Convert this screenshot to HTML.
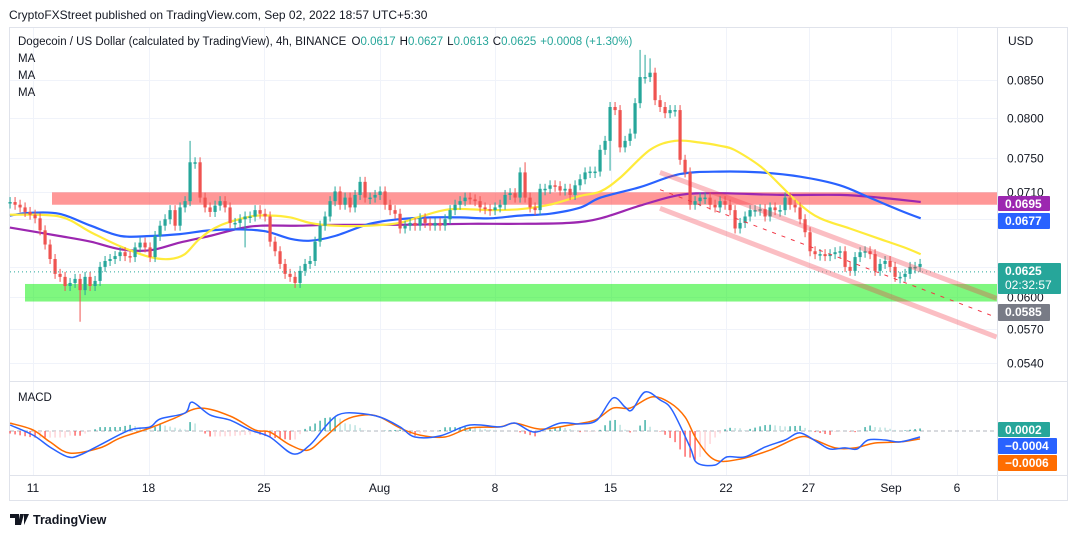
<!DOCTYPE html>
<html><head><meta charset="utf-8"><style>
html,body{margin:0;padding:0;background:#fff;}
svg{display:block;font-family:"Liberation Sans",sans-serif;}
</style></head><body>
<svg id="c" width="1078" height="537" viewBox="0 0 1078 537" xmlns="http://www.w3.org/2000/svg">
<rect x="0" y="0" width="1078" height="537" fill="#fff"/>
<text x="9" y="19" font-size="12" fill="#131722">CryptoFXStreet published on TradingView.com, Sep 02, 2022 18:57 UTC+5:30</text>
<rect x="9.5" y="27.5" width="1058" height="473" fill="none" stroke="#e0e3eb"/>
<g id="grid"></g>
<g id="zones"></g>
<g id="mas"></g>
<g id="candles"></g>
<g id="drawings"></g>
<g id="macd"></g>
<line x1="9" y1="381.5" x2="1067" y2="381.5" stroke="#e0e3eb"/>
<line x1="9" y1="475.5" x2="1067" y2="475.5" stroke="#e0e3eb"/>
<line x1="997.5" y1="27" x2="997.5" y2="500" stroke="#e0e3eb"/>
<g id="axes"></g>
<text x="18" y="45" font-size="11.5" fill="#131722">Dogecoin / US Dollar (calculated by TradingView), 4h, BINANCE <tspan dx="2">O</tspan><tspan fill="#26a69a">0.0617</tspan><tspan dx="4">H</tspan><tspan fill="#26a69a">0.0627</tspan><tspan dx="4">L</tspan><tspan fill="#26a69a">0.0613</tspan><tspan dx="4">C</tspan><tspan fill="#26a69a">0.0625</tspan><tspan dx="4" fill="#26a69a">+0.0008 (+1.30%)</tspan></text>
<text x="18" y="62" font-size="11.5" fill="#131722">MA</text>
<text x="18" y="79" font-size="11.5" fill="#131722">MA</text>
<text x="18" y="96" font-size="11.5" fill="#131722">MA</text>
<text x="18" y="401" font-size="11.5" fill="#131722">MACD</text>
<text x="1008" y="45" font-size="12" fill="#131722">USD</text>
<g>
<path d="M10 514h9v11h-4v-7h-5z M20 514h4l-3 11h-3z M24 514h5l-5 11z" fill="#131722"/>
<text x="33" y="524" font-size="12.5" font-weight="bold" fill="#131722">TradingView</text>
</g>
</svg>
<script>
const closes=[0.0699,0.0696,0.0693,0.0688,0.0685,0.0681,0.0668,0.0653,0.0638,0.0623,0.0620,0.0611,0.0614,0.0618,0.0607,0.0620,0.0611,0.0616,0.0630,0.0636,0.0638,0.0641,0.0645,0.0641,0.0640,0.0650,0.0655,0.0650,0.0640,0.0662,0.0673,0.0680,0.0690,0.0673,0.0693,0.0700,0.0745,0.0745,0.0704,0.0693,0.0688,0.0695,0.0700,0.0693,0.0676,0.0676,0.0680,0.0683,0.0683,0.0690,0.0686,0.0683,0.0656,0.0646,0.0633,0.0623,0.0620,0.0614,0.0626,0.0633,0.0636,0.0656,0.0673,0.0683,0.0700,0.0711,0.0696,0.0704,0.0693,0.0707,0.0722,0.0704,0.0704,0.0707,0.0711,0.0696,0.0690,0.0686,0.0670,0.0673,0.0676,0.0673,0.0681,0.0676,0.0673,0.0676,0.0673,0.0680,0.0690,0.0696,0.0700,0.0704,0.0702,0.0700,0.0693,0.0691,0.0690,0.0693,0.0696,0.0707,0.0709,0.0704,0.0733,0.0704,0.0693,0.0690,0.0714,0.0714,0.0718,0.0717,0.0712,0.0714,0.0707,0.0718,0.0725,0.0733,0.0734,0.0734,0.0760,0.0771,0.0814,0.0810,0.0763,0.0771,0.0780,0.0819,0.0854,0.0854,0.0860,0.0823,0.0814,0.0806,0.0810,0.0810,0.0748,0.0733,0.0696,0.0700,0.0704,0.0704,0.0696,0.0693,0.0700,0.0696,0.0690,0.0670,0.0676,0.0683,0.0690,0.0690,0.0691,0.0683,0.0693,0.0690,0.0690,0.0704,0.0696,0.0693,0.0680,0.0666,0.0646,0.0643,0.0643,0.0641,0.0643,0.0645,0.0646,0.0630,0.0626,0.0640,0.0645,0.0646,0.0643,0.0626,0.0633,0.0636,0.0630,0.0620,0.0620,0.0623,0.0630,0.0630,0.0633];
const spikeHighIdx=[36,126,127,128,103];
const spikeHighVal=[0.0771,0.0892,0.0885,0.0880,0.0745];
const spikeLowIdx=[14,47,120];
const spikeLowVal=[0.0577,0.0650,0.0735];

const maYellowDays=[-1.4,1.6,3.5,5.3,7.1,8.3,9.2,10.1,11.3,13.2,14.4,15.6,16.8,18.3,20.4,22.2,23.5,25.3,27.7,29.5,31.3,33.2,34.4,35.6,37.4,38.9,40.4,41.6,42.5,44.1,45.3,46.5,47.7,49.5,51.3,52.8,53.8];
const maYellowVals=[0.0685,0.0683,0.0666,0.0651,0.0640,0.0638,0.0643,0.0659,0.0673,0.0683,0.0684,0.0682,0.0676,0.0673,0.0673,0.0676,0.0683,0.0691,0.0690,0.0691,0.0696,0.0706,0.0711,0.0727,0.0760,0.0771,0.0769,0.0765,0.0760,0.0740,0.0718,0.0696,0.0681,0.0670,0.0659,0.0650,0.0643];
const maBlueDays=[-1.4,-0.2,1.6,3.5,5.3,7.1,8.9,10.7,12.5,14.1,15.6,16.8,18.3,20.4,22.2,24.1,25.9,27.7,29.5,31.3,33.2,34.4,36.8,39.2,41.6,44.1,46.5,48.9,50.7,52.5,53.8];
const maBlueVals=[0.0684,0.0687,0.0686,0.0673,0.0662,0.0662,0.0664,0.0668,0.0669,0.0667,0.0659,0.0657,0.0662,0.0675,0.0680,0.0682,0.0682,0.0681,0.0684,0.0686,0.0693,0.0704,0.0716,0.0731,0.0734,0.0733,0.0728,0.0718,0.0704,0.0690,0.0681];
const maPurpleDays=[-1.4,1.6,3.5,5.3,7.1,8.9,10.7,12.5,13.8,16.2,18.3,22.2,26.5,29.5,32.5,34.4,36.8,39.2,41.6,45.3,48.9,51.3,53.8];
const maPurpleVals=[0.0671,0.0662,0.0656,0.0648,0.0647,0.0655,0.0662,0.0670,0.0673,0.0673,0.0674,0.0674,0.0675,0.0675,0.0676,0.0681,0.0695,0.0707,0.0709,0.0707,0.0707,0.0704,0.0699];

const macdDays=[-1.39,0,1.03,2.12,2.85,4.06,5.88,7.09,7.7,9.21,9.64,10.73,11.94,13.15,14.36,15.76,16.79,17.7,18.48,19.52,21.03,22.24,23.15,24.67,26.48,28.3,29.21,30.42,31.94,33.15,34.18,35.15,35.88,36.3,37.09,38,38.73,39.82,40.24,41.33,42.06,43.15,44.36,45.58,46.48,47.52,48.3,49.21,49.94,50.61,51.64,52.55,53.76];
const macdVals=[4,-2.7,-10.7,-17.3,-16,-9.3,0.7,2.7,8,12,19.3,10.7,7.3,0.7,-4,-15.3,-9.3,2.7,10.7,12,9.3,2.7,-4,-3.3,4,2.7,5.3,-0.7,5.3,4.7,7.3,22,16,14,26,20.7,14,-10.7,-21.3,-22.7,-17.3,-17.3,-10.7,-6,-1.3,-7.3,-12,-11.3,-12,-6,-6,-7.3,-4];
const signalDays=[-1.39,0,1.03,2.24,4.06,5.27,7.09,8.61,10.12,11.94,13.45,14.36,15.58,16.67,17.7,18.91,20.12,21.03,22.24,23.45,24.97,26.48,28.3,29.21,30.73,32.55,34.06,35.15,36.18,37.52,38.61,39.52,40.24,41.33,42.85,44.67,46.48,47.39,48.61,49.82,51.03,52.55,53.76];
const signalVals=[5.3,0.7,-7.3,-14.7,-11.3,-4.7,2,8.7,15.3,10,0.7,-0.7,-9.3,-12.7,-4,7.3,10.7,9.3,2,-2.7,-4,2,2.7,5.3,1.3,4,7.3,15.3,15.3,22.7,18.7,9.3,-6,-19.3,-18.7,-12.7,-4,-6,-11.3,-11.3,-8,-7.3,-5.3];

const priceTicks=[0.085,0.08,0.075,0.071,0.068,0.063,0.06,0.057,0.054];
const priceTickLabels=["0.0850","0.0800","0.0750","0.0710","0.0680","0.0630","0.0600","0.0570","0.0540"];
const timeTickDays=[0,7,14,21,28,35,42,47,52,56];
const timeTickLabels=["11","18","25","Aug","8","15","22","27","Sep","6"];
const resistanceZone=[0.0710,0.0696];
const supportZone=[0.0613,0.0596];
const channelDays=[38,58.4];
const channelUpper=[0.0733,0.0599];
const channelMid=[0.0713,0.0581];
const channelLower=[0.0692,0.0563];
const lastPrice=0.0625;

const NS="http://www.w3.org/2000/svg";
const xOf=d=>33+d*16.5;
const yOf=p=>80+Math.log(0.085/p)*624;
const yM=v=>431-v*1.5;
const D0=-1.39, STEP=5/16.5;
function mk(tag,attrs,parent){const e=document.createElementNS(NS,tag);for(const k in attrs)e.setAttribute(k,attrs[k]);parent.appendChild(e);return e;}
function interp(ds,vs,d){if(d<=ds[0])return vs[0];for(let i=1;i<ds.length;i++){if(d<=ds[i]){const t=(d-ds[i-1])/(ds[i]-ds[i-1]);return vs[i-1]+t*(vs[i]-vs[i-1]);}}return vs[vs.length-1];}
function smoothPath(pts){let s="M"+pts[0][0].toFixed(1)+","+pts[0][1].toFixed(1);for(let i=1;i<pts.length;i++){const p0=pts[i-2]||pts[i-1],p1=pts[i-1],p2=pts[i],p3=pts[i+1]||p2;const c1=[p1[0]+(p2[0]-p0[0])/6,p1[1]+(p2[1]-p0[1])/6],c2=[p2[0]-(p3[0]-p1[0])/6,p2[1]-(p3[1]-p1[1])/6];s+="C"+c1[0].toFixed(1)+","+c1[1].toFixed(1)+" "+c2[0].toFixed(1)+","+c2[1].toFixed(1)+" "+p2[0].toFixed(1)+","+p2[1].toFixed(1);}return s;}

const grid=document.getElementById('grid'), axes=document.getElementById('axes');
timeTickDays.forEach((d,i)=>{
  const x=Math.round(xOf(d))+0.5;
  const gl=mk('line',{x1:x,y1:28,x2:x,y2:475,stroke:'#f0f3fa'},grid);
  
  
  const t=mk('text',{x:xOf(d),y:492,'font-size':12,fill:'#131722','text-anchor':'middle'},axes);
  t.textContent=timeTickLabels[i];
  
  
});
priceTicks.forEach((p,i)=>{
  const y=Math.round(yOf(p))+0.5;
  const gl=mk('line',{x1:10,y1:y,x2:997,y2:y,stroke:'#f0f3fa'},grid);
  
  
  const t=mk('text',{x:1007,y:y+4,'font-size':12,fill:'#131722'},axes);
  t.textContent=priceTickLabels[i];
  
  
});

const zones=document.getElementById('zones');
const rz=mk('rect',{x:52,y:yOf(resistanceZone[0]),width:945,height:yOf(resistanceZone[1])-yOf(resistanceZone[0]),fill:'rgba(255,82,82,0.6)'},zones);


const sz=mk('rect',{x:25,y:yOf(supportZone[0]),width:972,height:yOf(supportZone[1])-yOf(supportZone[0]),fill:'rgba(0,240,0,0.5)'},zones);



const mas=document.getElementById('mas');
[[maPurpleDays,maPurpleVals,'#9c27b0','ma-purple-line'],[maBlueDays,maBlueVals,'#2962ff','ma-blue-line'],[maYellowDays,maYellowVals,'#ffeb3b','ma-yellow-line']].forEach(m=>{
  const pts=m[0].map((d,i)=>[xOf(d),yOf(m[1][i])]);
  const p=mk('path',{d:smoothPath(pts),fill:'none',stroke:m[2],'stroke-width':2.2},mas);
  
  
});

const cg=document.getElementById('candles');
closes.forEach((c,i)=>{
  const o=i>0?closes[i-1]:c;
  const x=xOf(D0+i*STEP);
  const up=c>=o, col=up?'#26a69a':'#ef5350';
  let yt=yOf(Math.max(o,c)), yb=yOf(Math.min(o,c));
  if(yb-yt<1.5){yb=yt+1.5;}
  let hi=yt-5, lo=yb+5;
  const hk=spikeHighIdx.indexOf(i); if(hk>=0) hi=Math.min(hi,yOf(spikeHighVal[hk]));
  const lk=spikeLowIdx.indexOf(i); if(lk>=0) lo=Math.max(lo,yOf(spikeLowVal[lk]));
  const w=mk('line',{x1:x,y1:hi,x2:x,y2:lo,stroke:col,'stroke-width':1},cg);
  
  
  const b=mk('rect',{x:x-1.6,y:yt,width:3.2,height:yb-yt,fill:col},cg);
  
  
});

const dr=document.getElementById('drawings');
const lp=mk('line',{x1:10,y1:yOf(lastPrice),x2:997,y2:yOf(lastPrice),stroke:'#26a69a','stroke-width':1,'stroke-dasharray':'1 3'},dr);


const chUp=mk('line',{x1:xOf(channelDays[0]),y1:yOf(channelUpper[0]),x2:xOf(channelDays[1]),y2:yOf(channelUpper[1]),stroke:'rgba(242,54,69,0.32)','stroke-width':5},dr);


const chLo=mk('line',{x1:xOf(channelDays[0]),y1:yOf(channelLower[0]),x2:xOf(channelDays[1]),y2:yOf(channelLower[1]),stroke:'rgba(242,54,69,0.32)','stroke-width':5},dr);


const chMid=mk('line',{x1:xOf(channelDays[0]),y1:yOf(channelMid[0]),x2:xOf(channelDays[1]),y2:yOf(channelMid[1]),stroke:'#f23645','stroke-width':1,'stroke-dasharray':'4 6'},dr);



const mg=document.getElementById('macd');
const zl=mk('line',{x1:10,y1:yM(0),x2:997,y2:yM(0),stroke:'#b2b5be','stroke-dasharray':'4 3'},mg);


let prevH=0;
closes.forEach((c,i)=>{
  const d=D0+i*STEP;
  const h=interp(macdDays,macdVals,d)-interp(signalDays,signalVals,d);
  const col=h>=0?(h>=prevH?'#26a69a':'#b2dfdb'):(h<=prevH?'#ff5252':'#ffcdd2');
  prevH=h;
  const x=xOf(d);
  const hb=mk('line',{x1:x,y1:yM(0),x2:x,y2:yM(h*1.3),stroke:col,'stroke-width':1.3},mg);
  
  
});
const sigP=mk('path',{d:smoothPath(signalDays.map((d,i)=>[xOf(d),yM(signalVals[i])])),fill:'none',stroke:'#ff6d00','stroke-width':1.5},mg);


const macP=mk('path',{d:smoothPath(macdDays.map((d,i)=>[xOf(d),yM(macdVals[i])])),fill:'none',stroke:'#2962ff','stroke-width':1.5},mg);



function badge(y,h,w,bg,lines,name){
  const r=mk('rect',{x:998,y:y,width:w,height:h,fill:bg,rx:1},axes);
  
  
  lines.forEach((l,i)=>{
    const t=mk('text',{x:1005,y:y+12+i*14,'font-size':12,fill:'#fff','font-weight':i===0?'bold':'normal'},axes);
    t.textContent=l;
    
    
  });
}
badge(196,15,52,'#9c27b0',['0.0695'],'ma-purple-badge');
badge(213,16,52,'#2962ff',['0.0677'],'ma-blue-badge');
badge(263,31,63,'#26a69a',['0.0625','02:32:57'],'last-price-badge');
badge(304,17,52,'#787b86',['0.0585'],'channel-price-badge');
badge(422,15,52,'#26a69a',['0.0002'],'macd-hist-badge');
badge(438,16,59,'#2962ff',['\u22120.0004'],'macd-badge');
badge(455,16,59,'#ff6d00',['\u22120.0006'],'signal-badge');
</script>
</body></html>
